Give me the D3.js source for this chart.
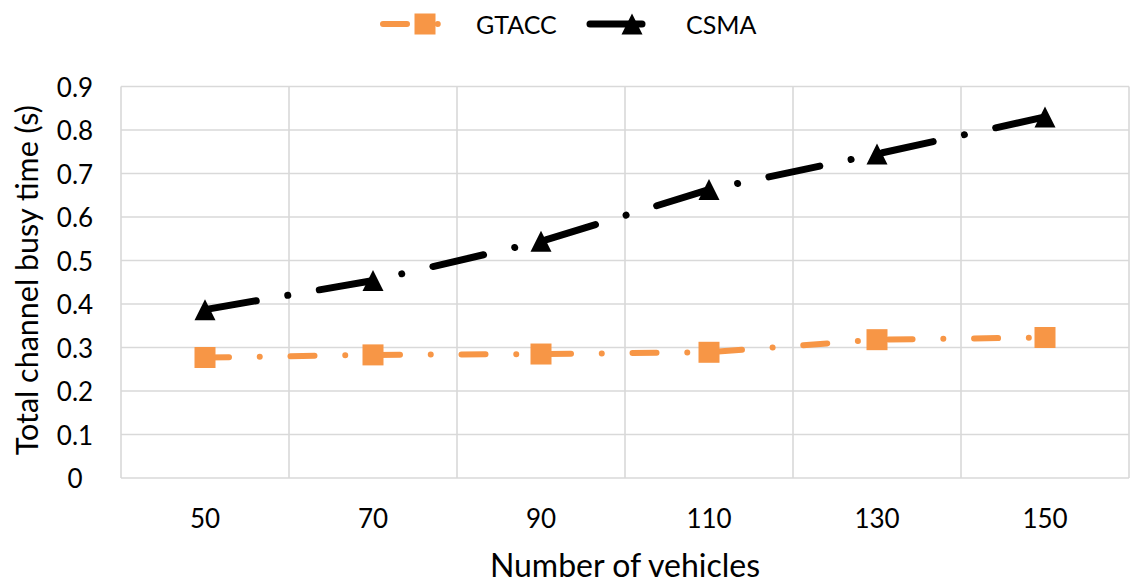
<!DOCTYPE html>
<html>
<head>
<meta charset="utf-8">
<script src="https://cdn.jsdelivr.net/npm/d3@7"></script>
<style>
  html, body { margin: 0; padding: 0; background: #fff; }
  svg { display: block; }
  text { font-family: Lato, "Open Sans", sans-serif; fill: #000; }
</style>
</head>
<body>
<svg id="chart" width="1136" height="584"></svg>
<script>
// ---- data ----
const categories = ["50", "70", "90", "110", "130", "150"];
const gtacc = [0.277, 0.283, 0.285, 0.289, 0.318, 0.323];
const csma = [0.387, 0.454, 0.544, 0.663, 0.745, 0.830];
const yTicks = [0, 0.1, 0.2, 0.3, 0.4, 0.5, 0.6, 0.7, 0.8, 0.9];
const yTickLabels = ["0", "0.1", "0.2", "0.3", "0.4", "0.5", "0.6", "0.7", "0.8", "0.9"];
const seriesNames = ["GTACC", "CSMA"];
const xTitle = "Number of vehicles";
const yTitle = "Total channel busy time (s)";

// ---- layout ----
const W = 1136, H = 584;
const plot = { left: 121, right: 1129, top: 86.5, bottom: 478 };
const orange = "#F79646";
const grid = "#d9d9d9";

const svg = d3.select("#chart");

const x = d3.scaleBand().domain(categories).range([plot.left, plot.right]).padding(0);
const y = d3.scaleLinear().domain([0, 0.9]).range([plot.bottom, plot.top]);
const cx = c => x(c) + x.bandwidth() / 2;

// grid: horizontal
svg.append("g").selectAll("line").data(yTicks).join("line")
  .attr("x1", plot.left).attr("x2", plot.right)
  .attr("y1", d => y(d)).attr("y2", d => y(d))
  .attr("stroke", grid).attr("stroke-width", 1.6);
// grid: vertical at band edges
const edges = categories.map(c => x(c)).concat([x.range()[1]]);
svg.append("g").selectAll("line").data(edges).join("line")
  .attr("x1", d => d).attr("x2", d => d)
  .attr("y1", plot.top).attr("y2", plot.bottom)
  .attr("stroke", grid).attr("stroke-width", 1.6);

// y tick labels
svg.append("g").selectAll("text").data(yTicks).join("text")
  .attr("x", 75).attr("y", d => y(d))
  .attr("text-anchor", "middle").attr("dominant-baseline", "central")
  .attr("font-size", 26)
  .text((d, i) => yTickLabels[i]);

// x tick labels
svg.append("g").selectAll("text").data(categories).join("text")
  .attr("x", d => cx(d)).attr("y", 528)
  .attr("text-anchor", "middle")
  .attr("font-size", 26)
  .text(d => d);

// axis titles
svg.append("text").attr("x", (plot.left + plot.right) / 2).attr("y", 577)
  .attr("text-anchor", "middle").attr("font-size", 32).text(xTitle);
svg.append("text").attr("transform", `translate(26,${(plot.top + plot.bottom) / 2 - 2}) rotate(-90)`)
  .attr("text-anchor", "middle").attr("dominant-baseline", "central")
  .attr("font-size", 30.5).text(yTitle);

// lines
const line = d3.line().x(d => cx(d.c)).y(d => y(d.v));
const gData = categories.map((c, i) => ({ c, v: gtacc[i] }));
const cData = categories.map((c, i) => ({ c, v: csma[i] }));

svg.append("path").datum(cData).attr("d", line)
  .attr("fill", "none").attr("stroke", "#000").attr("stroke-width", 7)
  .attr("stroke-linecap", "round").attr("stroke-dasharray", "52 32 0.01 32");
svg.append("path").datum(gData).attr("d", line)
  .attr("fill", "none").attr("stroke", orange).attr("stroke-width", 6)
  .attr("stroke-linecap", "round").attr("stroke-dasharray", "24 30.75 0.01 30.75");

// markers
const S = 21;
function triPath(px, py) {
  const h = S / 2;
  return `M${px},${py - h}L${px + h},${py + h}L${px - h},${py + h}Z`;
}
svg.append("g").selectAll("path").data(cData).join("path")
  .attr("d", d => triPath(cx(d.c), y(d.v))).attr("fill", "#000");
svg.append("g").selectAll("rect").data(gData).join("rect")
  .attr("x", d => cx(d.c) - S / 2).attr("y", d => y(d.v) - S / 2)
  .attr("width", S).attr("height", S).attr("fill", orange);

// legend
const legend = [
  { name: seriesNames[0], x0: 383, color: orange, w: 6, dash: "24 30.75 0.01 30.75", marker: "square", tx: 476 },
  { name: seriesNames[1], x0: 590, color: "#000", w: 7, dash: "52 32 0.01 32", marker: "tri", tx: 686 }
];
const ly = 24, llen = 84;
const lg = svg.append("g");
legend.forEach(l => {
  lg.append("line").attr("x1", l.x0).attr("x2", l.x0 + llen).attr("y1", ly).attr("y2", ly)
    .attr("stroke", l.color).attr("stroke-width", l.w).attr("stroke-linecap", "round")
    .attr("stroke-dasharray", l.dash);
  const mx = l.x0 + llen / 2;
  if (l.marker === "square") {
    lg.append("rect").attr("x", mx - S / 2).attr("y", ly - S / 2).attr("width", S).attr("height", S).attr("fill", l.color);
  } else {
    lg.append("path").attr("d", triPath(mx, ly)).attr("fill", l.color);
  }
  lg.append("text").attr("x", l.tx).attr("y", ly).attr("dominant-baseline", "central")
    .attr("font-size", 25).text(l.name);
});
</script>
</body>
</html>
